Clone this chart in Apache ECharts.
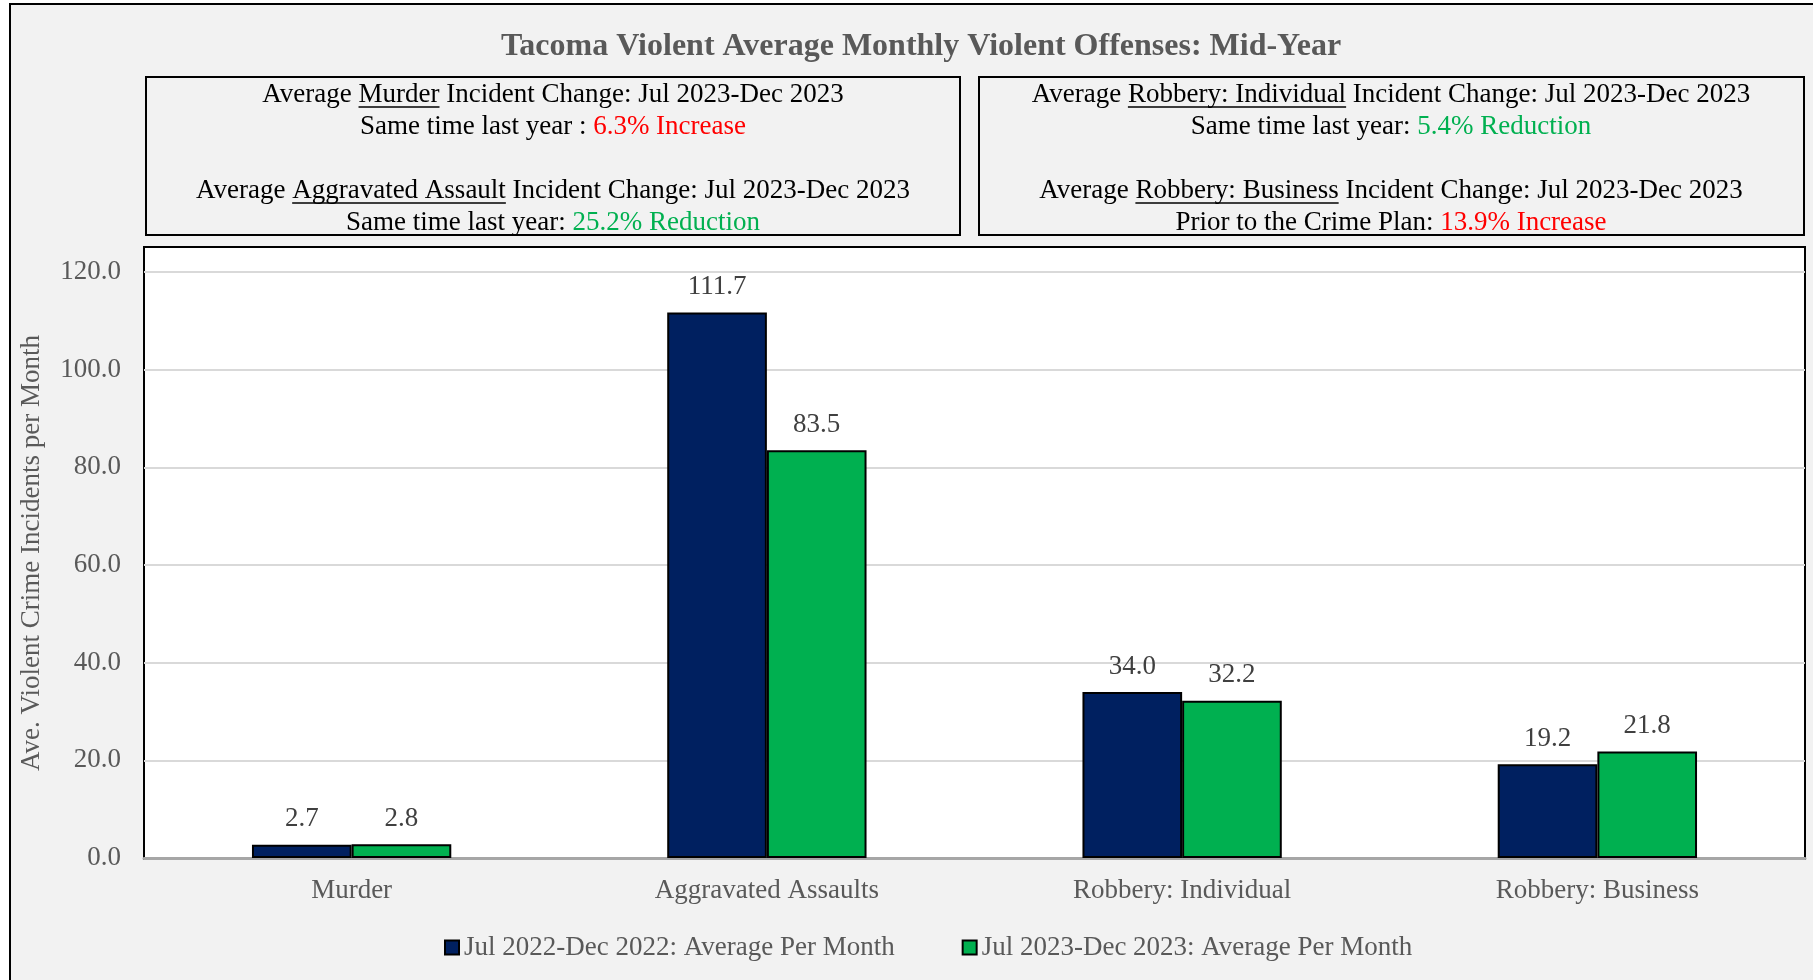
<!DOCTYPE html>
<html>
<head>
<meta charset="utf-8">
<script src="https://cdn.jsdelivr.net/npm/echarts@6/dist/echarts.min.js"></script>
<style>
  html, body { margin: 0; padding: 0; background: #fff; }
  #chart { width: 1813px; height: 980px; }
</style>
</head>
<body>
<div id="chart"></div>
<script>
// data
const categories = ["Murder", "Aggravated Assaults", "Robbery: Individual", "Robbery: Business"];
const prevYear = [2.7, 111.7, 34.0, 19.2];
const thisYear = [2.8, 83.5, 32.2, 21.8];
const seriesNames = ["Jul 2022-Dec 2022: Average Per Month", "Jul 2023-Dec 2023: Average Per Month"];
const yMin = 0, yMax = 120, yStep = 20;

// annotation lines in the two boxes
const notes = [
  { cx: 553, y: 95, pre: "Average ", u: "Murder", post: " Incident Change: Jul 2023-Dec 2023" },
  { cx: 553, y: 127, pre: "Same time last year : ", c: "6.3% Increase", col: "r" },
  { cx: 553, y: 191, pre: "Average ", u: "Aggravated Assault", post: " Incident Change: Jul 2023-Dec 2023" },
  { cx: 553, y: 223, pre: "Same time last year: ", c: "25.2% Reduction", col: "g" },
  { cx: 1391, y: 95, pre: "Average ", u: "Robbery: Individual", post: " Incident Change: Jul 2023-Dec 2023" },
  { cx: 1391, y: 127, pre: "Same time last year: ", c: "5.4% Reduction", col: "g" },
  { cx: 1391, y: 191, pre: "Average ", u: "Robbery: Business", post: " Incident Change: Jul 2023-Dec 2023" },
  { cx: 1391, y: 223, pre: "Prior to the Crime Plan: ", c: "13.9% Increase", col: "r" }
];

const FONT = '"Liberation Serif", "Times New Roman", serif';
const FS = 27;

// measure text so the underlines sit under the right words
const ctx = document.createElement("canvas").getContext("2d");
ctx.font = FS + "px " + FONT;
const tw = s => ctx.measureText(s).width;

let graphics = [
  // outer frame
  { type: "rect", z: -10, shape: { x: 10, y: 4, width: 1830, height: 1000 },
    style: { fill: "#f2f2f2", stroke: "#000", lineWidth: 2 } },
  // plot box (taller than the value range, like the original)
  { type: "rect", z: -5, shape: { x: 144, y: 247, width: 1661, height: 612 },
    style: { fill: "#fff", stroke: "#000", lineWidth: 2 } },
  // annotation boxes
  { type: "rect", shape: { x: 146, y: 77, width: 814, height: 158 },
    style: { fill: "#f2f2f2", stroke: "#000", lineWidth: 2 } },
  { type: "rect", shape: { x: 979, y: 77, width: 825, height: 158 },
    style: { fill: "#f2f2f2", stroke: "#000", lineWidth: 2 } },
  // y axis title
  { type: "text", x: 32, y: 553, rotation: Math.PI / 2,
    style: { text: "Ave. Violent Crime Incidents per Month", align: "center", verticalAlign: "middle",
      font: FS + "px " + FONT, fill: "#595959" } }
];

notes.forEach(n => {
  let text, full;
  if (n.u) {
    text = n.pre + "{u|" + n.u + "}" + n.post;
    full = n.pre + n.u + n.post;
  } else {
    text = n.pre + "{" + n.col + "|" + n.c + "}";
    full = n.pre + n.c;
  }
  graphics.push({
    type: "text", z: 5, x: n.cx, y: n.y,
    style: {
      text: text, align: "center", verticalAlign: "middle",
      font: FS + "px " + FONT, fill: "#000",
      rich: {
        u: { fontSize: FS, fontFamily: FONT, fill: "#000" },
        r: { fontSize: FS, fontFamily: FONT, fill: "#ff0000" },
        g: { fontSize: FS, fontFamily: FONT, fill: "#00b050" }
      }
    }
  });
  if (n.u) {
    const x0 = n.cx - tw(full) / 2 + tw(n.pre);
    const ly = n.y + 12;
    graphics.push({
      type: "line", z: 5,
      shape: { x1: x0, y1: ly, x2: x0 + tw(n.u), y2: ly },
      style: { stroke: "#000", lineWidth: 1.5 }
    });
  }
});

const chart = echarts.init(document.getElementById("chart"));

const barLabel = {
  show: true, position: "top", distance: 12,
  fontFamily: FONT, fontSize: FS, color: "#404040",
  formatter: p => p.value.toFixed(1)
};

chart.setOption({
  backgroundColor: "#fff",
  animation: false,
  title: {
    text: "Tacoma Violent Average Monthly Violent Offenses: Mid-Year",
    left: 916, top: 26, textAlign: "center",
    textStyle: { fontFamily: FONT, fontSize: 32, fontWeight: "bold", color: "#595959" }
  },
  graphic: graphics,
  grid: { left: 144, top: 272, right: 8, bottom: 122 },
  legend: {
    left: 439, top: 929,
    itemWidth: 14, itemHeight: 14, itemGap: 67,
    icon: "rect",
    textStyle: { fontFamily: FONT, fontSize: FS, color: "#595959" },
    data: seriesNames
  },
  xAxis: {
    type: "category",
    data: categories,
    axisTick: { show: false },
    axisLine: { lineStyle: { color: "#a6a6a6", width: 3 } },
    axisLabel: { margin: 19, fontFamily: FONT, fontSize: FS, color: "#595959" }
  },
  yAxis: {
    type: "value",
    min: yMin, max: yMax, interval: yStep,
    axisLine: { show: false },
    axisTick: { show: false },
    axisLabel: { margin: 23, fontFamily: FONT, fontSize: FS, color: "#595959",
      formatter: v => v.toFixed(1) },
    splitLine: { lineStyle: { color: "#d9d9d9", width: 2 } }
  },
  series: [
    {
      name: seriesNames[0], type: "bar", data: prevYear,
      barGap: "0%", barCategoryGap: "52%",
      itemStyle: { color: "#002060", borderColor: "#000", borderWidth: 2 },
      label: barLabel
    },
    {
      name: seriesNames[1], type: "bar", data: thisYear,
      itemStyle: { color: "#00b050", borderColor: "#000", borderWidth: 2 },
      label: barLabel
    }
  ]
});
</script>
</body>
</html>
